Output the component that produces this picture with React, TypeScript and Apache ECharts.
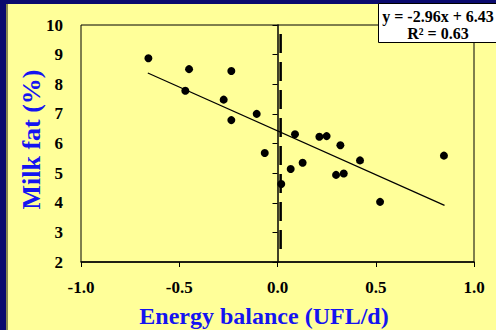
import React, { useEffect, useRef } from "react";
import * as echarts from "echarts";

const energyBalance = [-0.657, -0.469, -0.45, -0.274, -0.235, -0.235, -0.106, -0.065, 0.019, 0.067, 0.089, 0.128, 0.213, 0.25, 0.298, 0.32, 0.337, 0.42, 0.522, 0.847];
const milkFat = [8.88, 7.78, 8.51, 7.48, 8.45, 6.79, 7.0, 5.68, 4.63, 5.14, 6.31, 5.35, 6.23, 6.25, 4.94, 5.94, 4.99, 5.43, 4.03, 5.59];
const trendLine = [[-0.66, 8.38], [0.85, 3.91]];
const zeroLine = [[0.016, 9.7], [0.016, 2.24]];
const equationLines = ["y = -2.96x + 6.43", "R² = 0.63"];
const xTitle = "Energy balance (UFL/d)";
const yTitle = "Milk fat (%)";

const FONT = '"Liberation Serif", "Times New Roman", serif';
const BLUE = "#1414F0";

export default function App() {
  const ref = useRef<HTMLDivElement>(null);
  useEffect(() => {
    if (!ref.current) return;
    const chart = echarts.init(ref.current, undefined, { renderer: "svg" });
    chart.setOption({
      animation: false,
      backgroundColor: "#FFFF99",
      graphic: [
        { type: "rect", shape: { x: 0, y: 0, width: 7, height: 330 }, style: { fill: "#0A0A6E" } },
        { type: "rect", shape: { x: 0, y: 0, width: 496, height: 4 }, style: { fill: "#0A0A6E" } },
        { type: "rect", shape: { x: 6, y: 4, width: 2, height: 326 }, style: { fill: "#8A8A50" } },
        {
          type: "rect",
          z: 100,
          shape: { x: 378.5, y: 3.5, width: 130, height: 39 },
          style: { fill: "#FFFFFF", stroke: "#000", lineWidth: 1 },
        },
        {
          type: "text",
          z: 101,
          x: 438,
          y: 16,
          style: { text: equationLines[0], fill: "#000", font: `bold 16px ${FONT}`, textAlign: "center", textVerticalAlign: "middle" },
        },
        {
          type: "text",
          z: 101,
          x: 438,
          y: 33,
          style: { text: equationLines[1], fill: "#000", font: `bold 16px ${FONT}`, textAlign: "center", textVerticalAlign: "middle" },
        },
        {
          type: "text",
          x: 264,
          y: 316,
          style: { text: xTitle, fill: BLUE, font: `bold 24px ${FONT}`, textAlign: "center", textVerticalAlign: "middle" },
        },
        {
          type: "text",
          x: 31,
          y: 139.5,
          rotation: Math.PI / 2,
          style: { text: yTitle, fill: BLUE, font: `bold 26px ${FONT}`, textAlign: "center", textVerticalAlign: "middle" },
        },
      ],
      grid: {
        left: 81,
        right: 22,
        top: 25,
        bottom: 68,
        show: true,
        borderColor: "#000",
        borderWidth: 1,
        backgroundColor: "transparent",
      },
      xAxis: {
        type: "value",
        min: -1,
        max: 1,
        interval: 0.5,
        axisLine: { lineStyle: { color: "#000", width: 1.5 } },
        axisTick: { show: true, length: 5, lineStyle: { color: "#000", width: 1 } },
        axisLabel: {
          color: "#000",
          fontFamily: FONT,
          fontWeight: "bold",
          fontSize: 17,
          margin: 17,
          formatter: (v: number) => v.toFixed(1),
        },
        splitLine: { show: false },
      },
      yAxis: {
        type: "value",
        min: 2,
        max: 10,
        interval: 1,
        axisLine: { lineStyle: { color: "#000", width: 1.5 } },
        axisTick: { show: true, length: 5, lineStyle: { color: "#000", width: 1 } },
        axisLabel: { color: "#000", fontFamily: FONT, fontWeight: "bold", fontSize: 17, margin: 18 },
        splitLine: { show: false },
      },
      series: [
        {
          type: "line",
          data: zeroLine,
          symbol: "none",
          lineStyle: { color: "#000", width: 2.5, type: [19, 9] },
          silent: true,
        },
        {
          type: "line",
          data: trendLine,
          symbol: "none",
          lineStyle: { color: "#000", width: 1.2 },
          silent: true,
        },
        {
          type: "scatter",
          data: energyBalance.map((x, i) => [x, milkFat[i]]),
          symbol: "circle",
          symbolSize: 8,
          itemStyle: { color: "#000", opacity: 1 },
        },
      ],
    });
    return () => chart.dispose();
  }, []);
  return <div ref={ref} style={{ position: "fixed", left: 0, top: 0, width: 496, height: 330 }} />;
}
